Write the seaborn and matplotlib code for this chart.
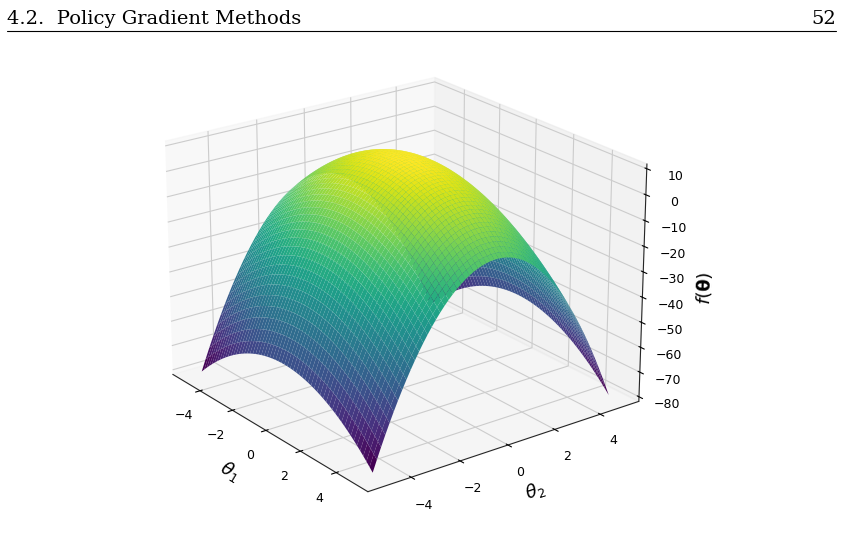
import numpy as np
import matplotlib
matplotlib.use("Agg")
import matplotlib.pyplot as plt
import seaborn as sns

sns.set_style("white")
plt.rcParams['font.family'] = ['DejaVu Sans']
plt.rcParams['text.color'] = 'black'
plt.rcParams['axes.labelcolor'] = 'black'
plt.rcParams['xtick.color'] = 'black'
plt.rcParams['ytick.color'] = 'black'

theta_range = [-5, 5]
n_points = 60
peak = 10
curvature = [0.9, 2.7]   # coefficients for theta1^2, theta2^2
zticks = [10, 0, -10, -20, -30, -40, -50, -60, -70, -80]
xyticks = [-4, -2, 0, 2, 4]

t1 = np.linspace(theta_range[0], theta_range[1], n_points)
t2 = np.linspace(theta_range[0], theta_range[1], n_points)
T1, T2 = np.meshgrid(t1, t2)
F = peak - curvature[0] * T1**2 - curvature[1] * T2**2

fig = plt.figure(figsize=(8.43, 5.42), dpi=100)
fig.text(0.008, 0.955, "4.2.  Policy Gradient Methods", family="DejaVu Serif", fontsize=14)
fig.text(0.992, 0.955, "52", family="DejaVu Serif", fontsize=14, ha="right")
fig.add_artist(plt.Line2D([0.008, 0.992], [0.943, 0.943], color="black", lw=0.8))

ax = fig.add_axes([0.01, 0.0, 0.92, 0.97], projection="3d")
ax.plot_surface(T1, T2, F, cmap=sns.color_palette("viridis", as_cmap=True), linewidth=0, antialiased=True, rcount=n_points, ccount=n_points)
ax.view_init(elev=22, azim=-37)
ax.set_xticks(xyticks)
ax.set_yticks(xyticks)
ax.set_zticks(zticks)
ax.tick_params(labelsize=9)
ax.set_xlabel(r"$\theta_1$", fontsize=13)
ax.set_ylabel(r"$\theta_2$", fontsize=13)
ax.set_zlabel(r"$f(\mathbf{\theta})$", fontsize=13)
fig.savefig("out.png", dpi=100)
